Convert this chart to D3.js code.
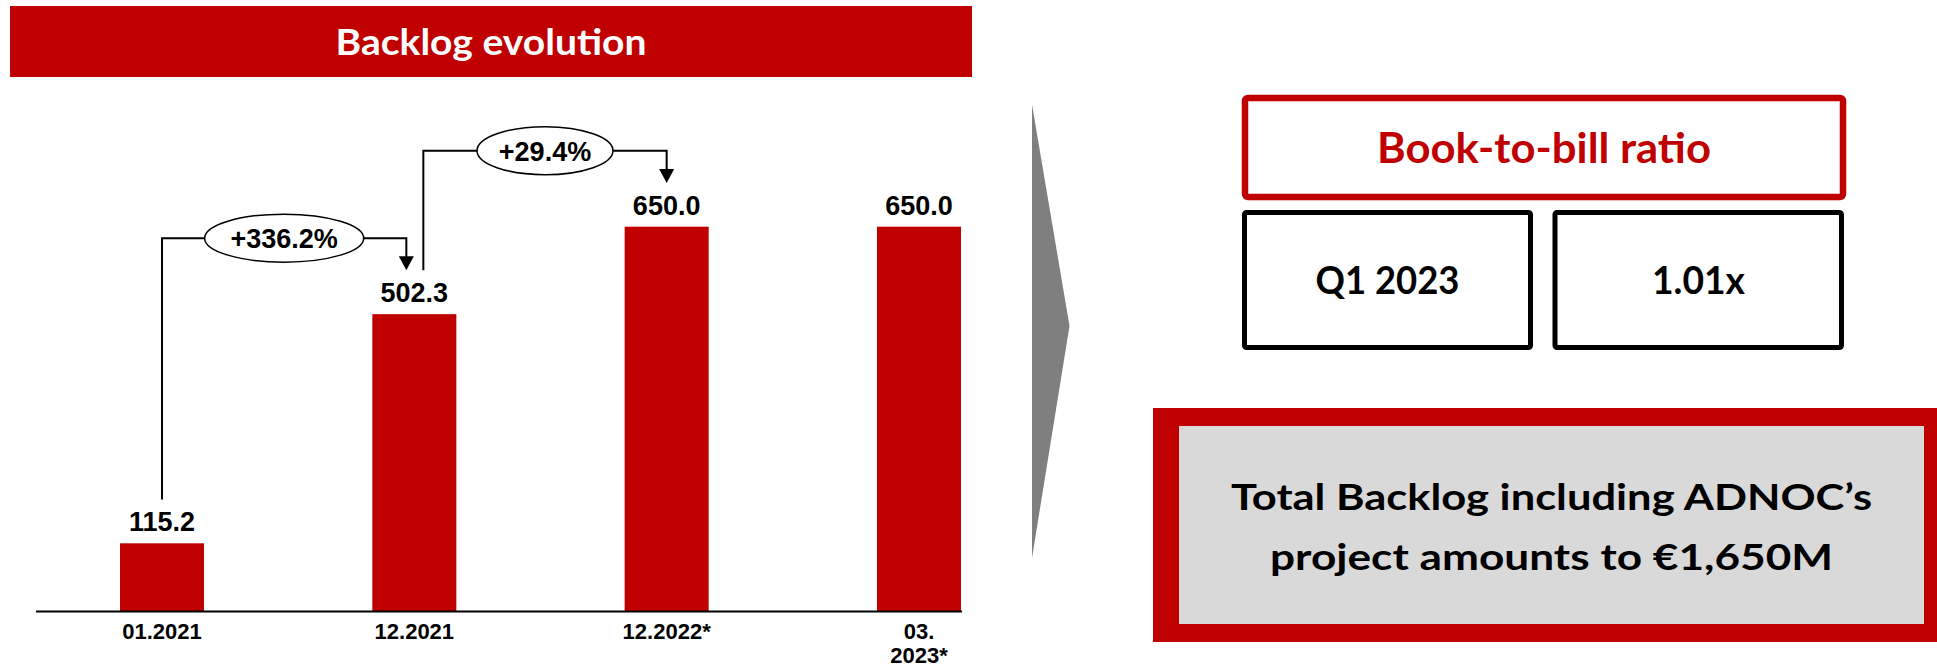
<!DOCTYPE html>
<html>
<head>
<meta charset="utf-8">
<script src="https://cdn.jsdelivr.net/npm/d3@7"></script>
<style>
  html, body { margin: 0; padding: 0; background: #ffffff; }
  svg { display: block; }
</style>
</head>
<body>
<svg id="chart" width="1937" height="667"></svg>
<script>
// ---------------- DATA ----------------
const categories = ["01.2021", "12.2021", "12.2022*", "03.\n2023*"];
const backlogValues = [115.2, 502.3, 650.0, 650.0];
const valueLabels = ["115.2", "502.3", "650.0", "650.0"];
const growthFrom = [0, 1];
const growthTo = [1, 2];
const growthLabels = ["+336.2%", "+29.4%"];
const chartTitle = "Backlog evolution";
const ratioTitle = "Book-to-bill ratio";
const ratioPeriod = "Q1 2023";
const ratioValue = "1.01x";
const noteLines = ["Total Backlog including ADNOC\u2019s", "project amounts to \u20ac1,650M"];

// ---------------- SETUP ----------------
const RED = "#C00000";
const svg = d3.select("#chart");
const calibri = "Lato, 'Open Sans', sans-serif";
const arial = "'Liberation Sans', Arial, sans-serif";

// Title banner
svg.append("rect").attr("x", 10).attr("y", 6).attr("width", 962).attr("height", 71).attr("fill", RED);
svg.append("text").attr("x", 491).attr("y", 55).attr("text-anchor", "middle")
  .attr("font-family", calibri).attr("font-weight", 700).attr("font-size", 36)
  .attr("fill", "#fff").attr("textLength", 311).attr("lengthAdjust", "spacingAndGlyphs")
  .text(chartTitle);

// Scales
const x = d3.scaleBand().domain(categories).range([120, 961]).paddingInner(0.667).paddingOuter(0);
const y = d3.scaleLinear().domain([0, 650]).range([611.5, 226.7]);
const cx = i => x(categories[i]) + x.bandwidth() / 2;

// Bars
svg.append("g").selectAll("rect").data(backlogValues).join("rect")
  .attr("x", (d, i) => x(categories[i]))
  .attr("y", d => y(d))
  .attr("width", x.bandwidth())
  .attr("height", d => y(0) - y(d))
  .attr("fill", RED);

// Baseline axis
svg.append("line").attr("x1", 36).attr("x2", 962).attr("y1", y(0)).attr("y2", y(0))
  .attr("stroke", "#000").attr("stroke-width", 2);

// Value labels
svg.append("g").selectAll("text").data(backlogValues).join("text")
  .attr("x", (d, i) => cx(i))
  .attr("y", d => y(d) - 12)
  .attr("text-anchor", "middle")
  .attr("font-family", arial).attr("font-weight", 700).attr("font-size", 27)
  .attr("fill", "#000")
  .text((d, i) => valueLabels[i]);

// Category labels
const catG = svg.append("g");
categories.forEach((c, i) => {
  c.split("\n").forEach((line, j) => {
    catG.append("text").attr("text-anchor", "middle")
      .attr("font-family", arial).attr("font-weight", 700).attr("font-size", 22).attr("fill", "#000")
      .attr("x", cx(i)).attr("y", 639 + j * 24).text(line);
  });
});

// Growth connectors
const labelTop = v => y(v) - 12 - 19.3;
const startOffsets = [0, 9];
const endOffsets = [-8, 0];
const ellipseRx = [79.5, 68];
const connG = svg.append("g");
growthLabels.forEach((lab, k) => {
  const a = growthFrom[k], b = growthTo[k];
  const x1 = cx(a) + startOffsets[k];
  const x2 = cx(b) + endOffsets[k];
  const y1 = labelTop(backlogValues[a]) - 12.5;
  const tip = labelTop(backlogValues[b]) - 12.5;
  const level = y(backlogValues[b]) - 76;
  const mid = (x1 + x2) / 2;
  connG.append("path")
    .attr("d", `M${x1},${y1}V${level}H${x2}V${tip - 13}`)
    .attr("fill", "none").attr("stroke", "#000").attr("stroke-width", 2);
  connG.append("path")
    .attr("d", `M${x2 - 7.5},${tip - 14}L${x2 + 7.5},${tip - 14}L${x2},${tip}Z`)
    .attr("fill", "#000");
  connG.append("ellipse").attr("cx", mid).attr("cy", level)
    .attr("rx", ellipseRx[k]).attr("ry", 24)
    .attr("fill", "#fff").attr("stroke", "#000").attr("stroke-width", 1.5);
  connG.append("text").attr("x", mid).attr("y", level + 10).attr("text-anchor", "middle")
    .attr("font-family", arial).attr("font-weight", 700).attr("font-size", 27).attr("fill", "#000")
    .text(lab);
});

// Grey chevron
svg.append("path").attr("d", "M1032,104.5L1069.5,326L1032,558Z").attr("fill", "#7F7F7F");

// Book-to-bill box
svg.append("rect").attr("x", 1245).attr("y", 98).attr("width", 598).attr("height", 99)
  .attr("rx", 3).attr("fill", "#fff").attr("stroke", RED).attr("stroke-width", 6.5);
svg.append("text").attr("x", 1544).attr("y", 163).attr("text-anchor", "middle")
  .attr("font-family", calibri).attr("font-weight", 700).attr("font-size", 42).attr("fill", RED)
  .attr("textLength", 334).attr("lengthAdjust", "spacingAndGlyphs").text(ratioTitle);

svg.append("rect").attr("x", 1244.5).attr("y", 212.5).attr("width", 286).attr("height", 135)
  .attr("rx", 2).attr("fill", "#fff").attr("stroke", "#000").attr("stroke-width", 5);
svg.append("rect").attr("x", 1555).attr("y", 212.5).attr("width", 286.5).attr("height", 135)
  .attr("rx", 2).attr("fill", "#fff").attr("stroke", "#000").attr("stroke-width", 5);
svg.append("text").attr("x", 1387.5).attr("y", 294).attr("text-anchor", "middle")
  .attr("font-family", calibri).attr("font-weight", 700).attr("font-size", 38).attr("fill", "#000")
  .attr("textLength", 144).attr("lengthAdjust", "spacingAndGlyphs").text(ratioPeriod);
svg.append("text").attr("x", 1698.5).attr("y", 294).attr("text-anchor", "middle")
  .attr("font-family", calibri).attr("font-weight", 700).attr("font-size", 38).attr("fill", "#000")
  .attr("textLength", 93).attr("lengthAdjust", "spacingAndGlyphs").text(ratioValue);

// Total backlog note
svg.append("rect").attr("x", 1153).attr("y", 408).attr("width", 800).attr("height", 234).attr("fill", RED);
svg.append("rect").attr("x", 1179).attr("y", 426).attr("width", 745).attr("height", 198).attr("fill", "#D9D9D9");
const noteWidths = [641, 563];
const noteBase = [510, 570];
noteLines.forEach((line, i) => {
  svg.append("text").attr("x", 1551.5).attr("y", noteBase[i]).attr("text-anchor", "middle")
    .attr("font-family", calibri).attr("font-weight", 700).attr("font-size", 37).attr("fill", "#000")
    .attr("textLength", noteWidths[i]).attr("lengthAdjust", "spacingAndGlyphs").text(line);
});
</script>
</body>
</html>
